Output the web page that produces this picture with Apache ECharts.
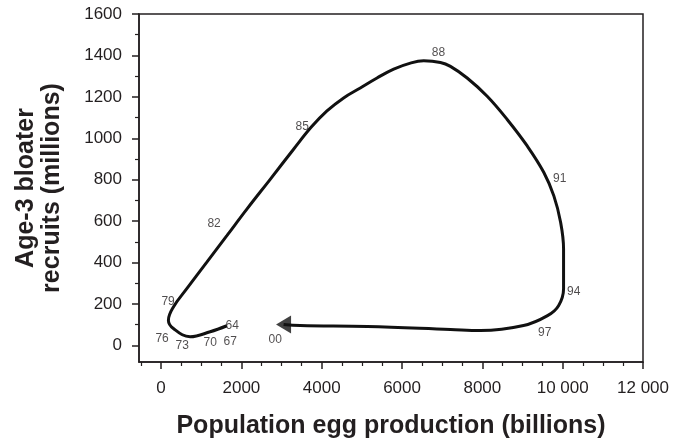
<!DOCTYPE html>
<html>
<head>
    <meta charset="utf-8" />
    <title></title>
    <script src="https://cdn.jsdelivr.net/npm/echarts@6/dist/echarts.min.js"></script>
</head>
<body style="margin:0">
    <div id="main" style="width: 684px;height:444px;"></div>
    <script type="text/javascript">
        // trajectory of egg production (billions) vs age-3 recruits (millions), 1964 -> 2000
        var pathX = [1638, 1222, 723, 307, 182, 307, 640, 1139, 1638, 2136, 2717, 3299, 3740, 4131, 4545, 4961, 5377, 5792, 6208, 6540, 6956, 7205, 7621, 8120, 8618, 9117, 9531, 9780, 9947, 10022, 10022, 9897, 9623, 9025, 7953, 7205, 5136, 3465, 3050];
        var pathY = [95, 66, 42, 82, 122, 186, 274, 402, 530, 658, 802, 947, 1054, 1132, 1195, 1243, 1291, 1334, 1363, 1374, 1366, 1347, 1291, 1203, 1091, 963, 835, 722, 596, 466, 274, 192, 144, 96, 72, 77, 91, 96, 101];

        // year labels
        var years = ['64', '67', '70', '73', '76', '79', '82', '85', '88', '91', '94', '97', '00'];
        var yearX = [1770, 1720, 1222, 524, 25, 175, 1320, 3516, 6908, 9925, 10274, 9551, 2843];
        var yearY = [96, 19, 14, 0, 34, 212, 587, 1058, 1413, 803, 260, 62, 29];

        var xLabels = [0, 2000, 4000, 6000, 8000, 10000, 12000];
        var xMinor = [-500, 500, 1000, 1500, 2500, 3000, 3500, 4500, 5000, 5500, 6500, 7000, 7500, 8500, 9000, 9500, 10500, 11000, 11500];
        var yLabels = [0, 200, 400, 600, 800, 1000, 1200, 1400, 1600];
        var yMinor = [100, 300, 500, 700, 900, 1100, 1300, 1500];

        var ink = '#231f20';
        var pathData = [];
        for (var i = 0; i < pathX.length; i++) pathData.push([pathX[i], pathY[i]]);
        var yearData = [];
        for (var j = 0; j < years.length; j++) yearData.push({ value: [yearX[j], yearY[j]], name: years[j] });

        var myChart = echarts.init(document.getElementById('main'));
        var option = {
            animation: false,
            grid: {
                left: 139, right: 41, top: 14, bottom: 80,
                show: true, borderColor: ink, borderWidth: 1.5, backgroundColor: 'transparent'
            },
            xAxis: [{
                type: 'value', min: -550, max: 12000,
                name: 'Population egg production (billions)',
                nameLocation: 'middle', nameGap: 52,
                nameTextStyle: { fontFamily: 'Liberation Sans', fontWeight: 'bold', fontSize: 25, color: ink },
                axisLine: { show: true, onZero: false, lineStyle: { color: ink, width: 1.5 } },
                axisTick: { show: true, length: 7, customValues: xLabels, lineStyle: { color: ink, width: 1.5 } },
                axisLabel: {
                    customValues: xLabels, margin: 18,
                    fontFamily: 'Liberation Sans', fontSize: 17, color: ink,
                    formatter: function (v) { return v >= 10000 ? String(v).replace(/(\d{3})$/, ' $1') : String(v); }
                },
                splitLine: { show: false }
            }, {
                type: 'value', min: -550, max: 12000, position: 'bottom',
                axisLine: { show: false, onZero: false },
                axisTick: { show: true, length: 4, customValues: xMinor, lineStyle: { color: ink, width: 1.2 } },
                axisLabel: { show: false },
                splitLine: { show: false }
            }],
            yAxis: [{
                type: 'value', min: -80, max: 1600,
                name: 'Age-3 bloater\nrecruits (millions)',
                nameLocation: 'middle', nameGap: 74, nameRotate: 90,
                nameTextStyle: { fontFamily: 'Liberation Sans', fontWeight: 'bold', fontSize: 25, color: ink, lineHeight: 26 },
                axisLine: { show: true, onZero: false, lineStyle: { color: ink, width: 1.5 } },
                axisTick: { show: true, length: 7, customValues: yLabels, lineStyle: { color: ink, width: 1.5 } },
                axisLabel: {
                    customValues: yLabels, margin: 17, fontFamily: 'Liberation Sans', fontSize: 17, color: ink,
                    formatter: function (v) { return String(v); }
                },
                splitLine: { show: false }
            }, {
                type: 'value', min: -80, max: 1600, position: 'left',
                axisLine: { show: false, onZero: false },
                axisTick: { show: true, length: 4, customValues: yMinor, lineStyle: { color: ink, width: 1.2 } },
                axisLabel: { show: false },
                splitLine: { show: false }
            }],
            series: [{
                name: 'trajectory',
                type: 'line',
                data: pathData,
                smooth: 0.4,
                showSymbol: false,
                lineStyle: { color: '#111', width: 3 }
            }, {
                name: 'arrow',
                type: 'scatter',
                data: [[pathX[pathX.length - 1], pathY[pathY.length - 1]]],
                symbol: 'triangle',
                symbolSize: [18, 15],
                symbolRotate: 90,
                itemStyle: { color: '#111' }
            }, {
                name: 'years',
                type: 'scatter',
                data: yearData,
                symbolSize: 0,
                label: {
                    show: true, position: 'inside', formatter: '{b}',
                    fontFamily: 'Liberation Sans', fontSize: 12, color: ink
                }
            }]
        };
        myChart.setOption(option);
    </script>
</body>
</html>
